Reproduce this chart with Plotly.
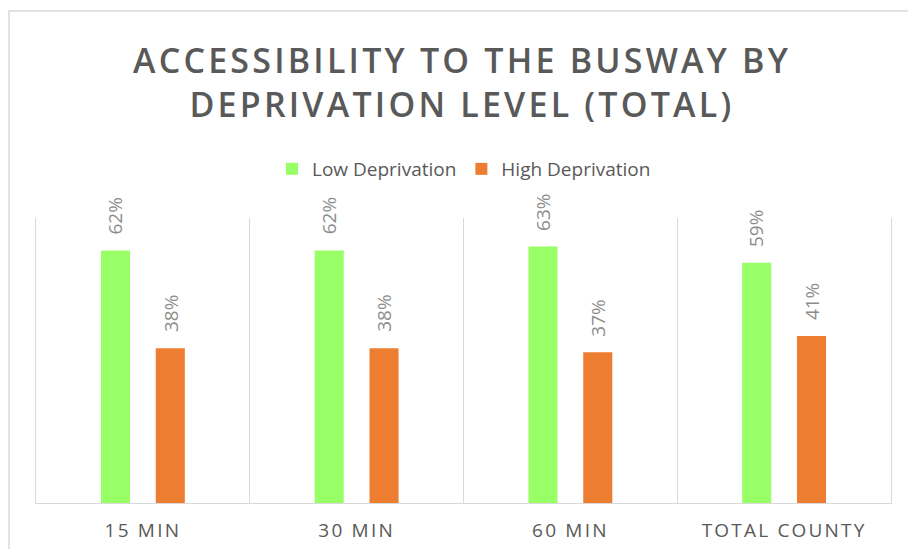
import plotly.graph_objects as go

# Share of population within reach of the busway, by deprivation level
categories = ["15 MIN", "30 MIN", "60 MIN", "TOTAL COUNTY"]
low_deprivation = [62, 62, 63, 59]
high_deprivation = [38, 38, 37, 41]

GREEN = "#99FF66"
ORANGE = "#ED7D31"
GRID = "#D9D9D9"
TEXT = "#595959"
LABEL = "#8C8C8C"
FONT = "Open Sans"

# plot area in pixels (908 x 549 canvas)
L, R, T, B = 36, 17, 218, 46
W, H = 908, 549
PW, PH = W - L - R, H - T - B
YMAX = 70


def spaced(s, px):
    return f'<span style="letter-spacing:{px}px">{s}</span>'


fig = go.Figure()
fig.add_trace(go.Bar(name="Low Deprivation", x=categories, y=low_deprivation,
                     marker=dict(color=GREEN, line=dict(width=0))))
fig.add_trace(go.Bar(name="High Deprivation", x=categories, y=high_deprivation,
                     marker=dict(color=ORANGE, line=dict(width=0))))

# rotated value labels above each bar
slot = PW / len(categories)
offset = slot * (1 - 0.487) / 4
for series, sign in ((low_deprivation, -1), (high_deprivation, 1)):
    for c, v in zip(categories, series):
        fig.add_annotation(x=c, y=v, xref="x", yref="y", text=f"{v}%",
                           textangle=-90, showarrow=False,
                           xanchor="center", yanchor="bottom",
                           xshift=sign * offset, yshift=14,
                           font=dict(family=FONT, size=19, color=LABEL))

# chart frame
fig.add_shape(type="rect", xref="paper", yref="paper",
              x0=(9 - L) / PW, x1=(W + 10 - L) / PW,
              y0=(H - B - (H + 10)) / PH, y1=(H - B - 11) / PH,
              line=dict(color=GRID, width=1.5), fillcolor="rgba(0,0,0,0)",
              layer="below")

# two-line title
fig.add_annotation(xref="paper", yref="paper",
                   x=(462 - L) / PW, xanchor="center",
                   y=(H - B - 35) / PH, yanchor="top",
                   text=spaced("ACCESSIBILITY TO THE BUSWAY BY", 3.2) + "<br>" +
                   spaced("DEPRIVATION LEVEL (TOTAL)", 3.2),
                   showarrow=False, align="center",
                   font=dict(family=FONT, size=34, color=TEXT, weight=600))

fig.update_layout(
    width=W, height=H,
    margin=dict(l=L, r=R, t=T, b=B, pad=0, autoexpand=False),
    paper_bgcolor="white", plot_bgcolor="white",
    barmode="group", bargap=0.487, bargroupgap=0.47,
    legend=dict(orientation="h", x=(464 - L) / PW, xanchor="center",
                y=1 + (T - 169) / PH, yanchor="middle",
                font=dict(family=FONT, size=19, color=TEXT),
                bgcolor="rgba(0,0,0,0)"),
    showlegend=True,
)
fig.update_xaxes(type="category", tickvals=categories,
                 ticktext=[spaced(c, 2.2) for c in categories],
                 tickson="boundaries", showgrid=True, gridcolor=GRID, gridwidth=1,
                 showline=True, linecolor=GRID, linewidth=1, ticks="",
                 tickfont=dict(family=FONT, size=19, color=TEXT),
                 ticklabelstandoff=10, automargin=False)
fig.update_yaxes(range=[0, YMAX], showgrid=False, zeroline=False,
                 showticklabels=False, ticks="", automargin=False,
                 showline=True, mirror=True, linecolor=GRID, linewidth=1)

fig.write_html("out.html")
